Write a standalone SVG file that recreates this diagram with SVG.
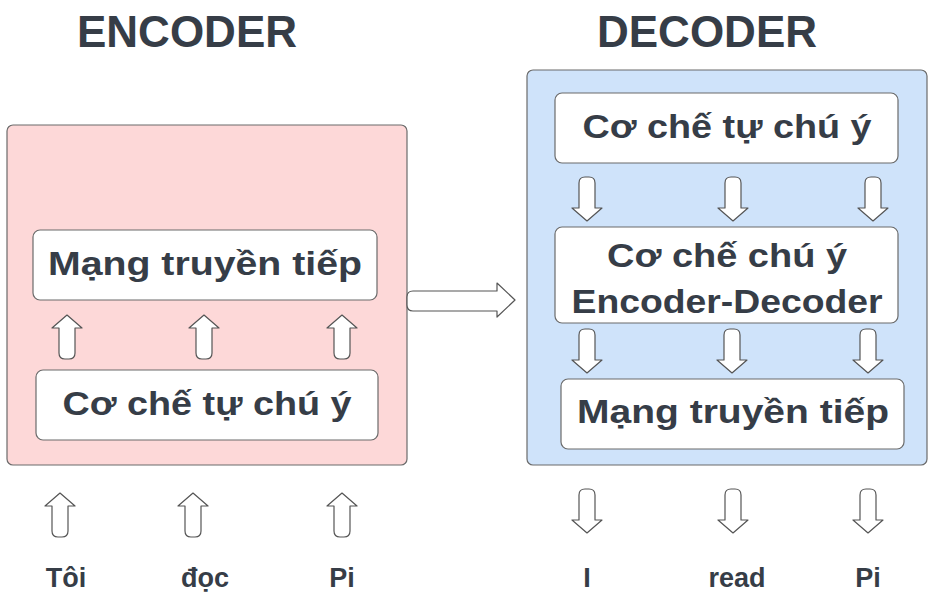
<svg xmlns="http://www.w3.org/2000/svg" xmlns:xlink="http://www.w3.org/1999/xlink" width="934" height="611" viewBox="0 0 934 611">
<style>
.title{font-family:"Liberation Sans",Arial,sans-serif;font-weight:bold;font-size:44px;fill:#363d47;text-anchor:middle}
.lbl{font-family:"Liberation Sans",Arial,sans-serif;font-weight:bold;font-size:33px;fill:#363d47;text-anchor:middle}
.word{font-family:"Liberation Sans",Arial,sans-serif;font-weight:bold;font-size:27px;fill:#363d47;text-anchor:middle}
.box{fill:#ffffff;stroke:#6b6b6b;stroke-width:1.2}
.arr{fill:#ffffff;stroke:#555555;stroke-width:1.2;stroke-linejoin:round}
</style>
<defs>
<path id="up" class="arr" d="M0,0 L15,13 L8,13 L8,38 Q8,44 2,44 L-2,44 Q-8,44 -8,38 L-8,13 L-15,13 Z"/>
</defs>
<rect width="934" height="611" fill="#ffffff"/>
<text class="title" x="187" y="47">ENCODER</text>
<text class="title" x="707" y="47">DECODER</text>
<g id="encoder">
<rect x="7" y="125" width="400" height="340" rx="6" fill="#fdd8d8" stroke="#6b6b6b" stroke-width="1.2"/>
</g>
<g id="decoder">
<rect x="527" y="70" width="400" height="395" rx="6" fill="#cfe3fa" stroke="#6b6b6b" stroke-width="1.2"/>
</g>
<g id="enc-ffn">
<rect class="box" x="33" y="230" width="344" height="70" rx="7"/>
<text class="lbl" x="205" y="275" textLength="314" lengthAdjust="spacingAndGlyphs">Mạng truyền tiếp</text>
</g>
<g id="enc-self">
<rect class="box" x="36" y="370" width="342" height="70" rx="7"/>
<text class="lbl" x="207" y="415" textLength="289" lengthAdjust="spacingAndGlyphs">Cơ chế tự chú ý</text>
</g>
<g id="dec-self">
<rect class="box" x="555" y="93" width="343" height="70" rx="7"/>
<text class="lbl" x="727" y="138" textLength="289" lengthAdjust="spacingAndGlyphs">Cơ chế tự chú ý</text>
</g>
<g id="dec-cross">
<rect class="box" x="555" y="227" width="343" height="96" rx="7"/>
<text class="lbl" x="727" y="267" textLength="240" lengthAdjust="spacingAndGlyphs">Cơ chế chú ý</text>
<text class="lbl" x="727" y="313" textLength="311" lengthAdjust="spacingAndGlyphs">Encoder-Decoder</text>
</g>
<g id="dec-ffn">
<rect class="box" x="561" y="379" width="343" height="70" rx="7"/>
<text class="lbl" x="733" y="423" textLength="312" lengthAdjust="spacingAndGlyphs">Mạng truyền tiếp</text>
</g>
<g id="words">
<text class="word" x="66" y="587">Tôi</text>
<text class="word" x="205" y="587">đọc</text>
<text class="word" x="342" y="587">Pi</text>
<text class="word" x="587" y="587">I</text>
<text class="word" x="737" y="587">read</text>
<text class="word" x="868" y="587">Pi</text>
</g>
<g id="connectors">
<use xlink:href="#up" transform="translate(67,315)"/>
<use xlink:href="#up" transform="translate(204,315)"/>
<use xlink:href="#up" transform="translate(342,315)"/>
<use xlink:href="#up" transform="translate(60,493)"/>
<use xlink:href="#up" transform="translate(193,493)"/>
<use xlink:href="#up" transform="translate(342,493)"/>
<use xlink:href="#up" transform="translate(587,221) rotate(180)"/>
<use xlink:href="#up" transform="translate(733,221) rotate(180)"/>
<use xlink:href="#up" transform="translate(873,221) rotate(180)"/>
<use xlink:href="#up" transform="translate(587,373) rotate(180)"/>
<use xlink:href="#up" transform="translate(732,373) rotate(180)"/>
<use xlink:href="#up" transform="translate(868,373) rotate(180)"/>
<use xlink:href="#up" transform="translate(587,533) rotate(180)"/>
<use xlink:href="#up" transform="translate(733,533) rotate(180)"/>
<use xlink:href="#up" transform="translate(868,533) rotate(180)"/>
<path class="arr" d="M413,291 L497,291 L497,283 L515,300 L497,317 L497,311 L413,311 Q407,311 407,305 L407,297 Q407,291 413,291 Z"/>
</g>
</svg>
